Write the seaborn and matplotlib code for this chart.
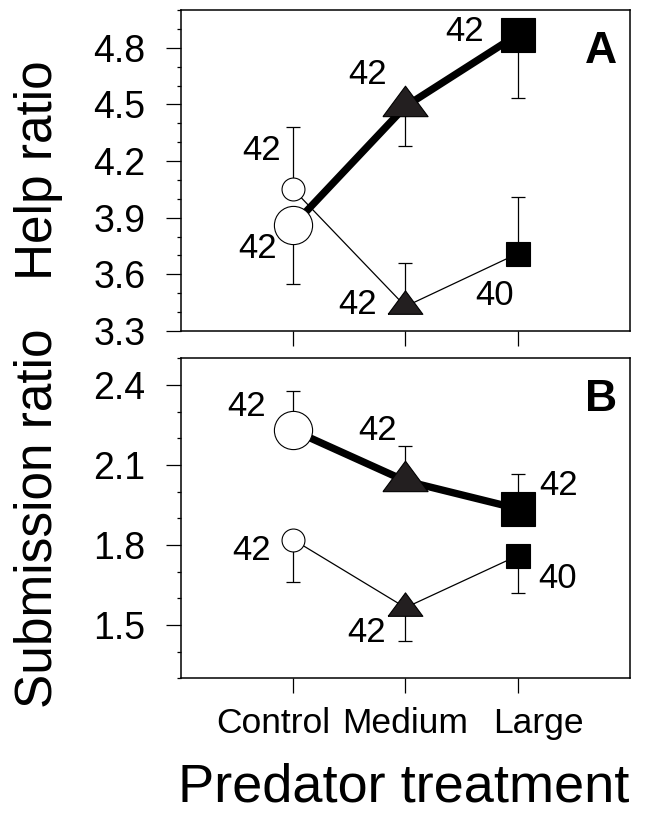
import matplotlib
matplotlib.use("Agg")
import matplotlib.pyplot as plt
import matplotlib.transforms as mtransforms
from matplotlib.ticker import MultipleLocator, FormatStrFormatter
import numpy as np
import pandas as pd
import seaborn as sns

# -------------------------------
# Data
# -------------------------------
treatments = ["Control", "Medium", "Large"]
positions = [1, 2, 3]

# Panel A - help ratio
help_thick = [3.86, 4.49, 4.87]
help_thick_err = [0.31, 0.21, 0.335]      # drawn downwards
help_thick_n = [42, 42, 42]
help_thin = [4.05, 3.43, 3.71]
help_thin_err = [0.33, 0.23, 0.30]        # drawn upwards
help_thin_n = [42, 42, 40]

# Panel B - submission ratio
sub_thick = [2.23, 2.04, 1.936]
sub_thick_err = [0.148, 0.13, 0.129]      # drawn upwards
sub_thick_n = [42, 42, 42]
sub_thin = [1.82, 1.565, 1.76]
sub_thin_err = [0.16, 0.125, 0.14]        # drawn downwards
sub_thin_n = [42, 42, 40]

help_ticks = [3.3, 3.6, 3.9, 4.2, 4.5, 4.8]
sub_ticks = [1.5, 1.8, 2.1, 2.4]

# -------------------------------
# Style
# -------------------------------
sns.set_theme(style="ticks")
plt.rcParams["font.family"] = ["Liberation Sans", "DejaVu Sans"]
plt.rcParams["axes.linewidth"] = 1.1
plt.rcParams["text.color"] = "black"
plt.rcParams["axes.labelcolor"] = "black"
plt.rcParams["xtick.color"] = "black"
plt.rcParams["ytick.color"] = "black"
plt.rcParams["axes.edgecolor"] = "black"

tri = [(-1, -0.45), (1, -0.45), (0, 0.9), (-1, -0.45)]
markers = ["o", tri, "s"]
faces = ["white", "#231f20", "black"]
big_sizes = [27.5, 32.5, 25]
small_sizes = [16.5, 25, 17]

fig = plt.figure(figsize=(6.45, 8.15), dpi=100)
ax_a = fig.add_axes([0.2806, 0.5939, 0.6961, 0.3938])
ax_b = fig.add_axes([0.2806, 0.1677, 0.6961, 0.3927])


def draw_series(ax, vals, errs, ns, down, thick, offsets):
    df = pd.DataFrame({"pos": positions, "val": vals})
    sns.lineplot(data=df, x="pos", y="val", ax=ax, color="black",
                 linewidth=5.3 if thick else 0.9, zorder=2)
    zeros = [0] * len(errs)
    yerr = [errs, zeros] if down else [zeros, errs]
    ax.errorbar(positions, vals, yerr=yerr, fmt="none", ecolor="black",
                elinewidth=0.9, capsize=5, capthick=0.9, zorder=1)
    sizes = big_sizes if thick else small_sizes
    for i, (p, v) in enumerate(zip(positions, vals)):
        ax.plot(p, v, marker=markers[i], ms=sizes[i], mfc=faces[i],
                mec="black", mew=0.8, linestyle="none", zorder=3)
        ax.annotate(str(ns[i]), xy=(p, v), xytext=offsets[i],
                    textcoords="offset points", ha="center", va="center",
                    fontsize=25, color="black")


draw_series(ax_a, help_thick, help_thick_err, help_thick_n, True, True,
            [(-25.6, -16.6), (-27.2, 23.0), (-38.0, 2.5)])
draw_series(ax_a, help_thin, help_thin_err, help_thin_n, False, False,
            [(-22.9, 27.8), (-34.4, 1.5), (-16.5, -30.0)])
draw_series(ax_b, sub_thick, sub_thick_err, sub_thick_n, False, True,
            [(-33.4, 16.8), (-19.8, 36.5), (29.7, 16.8)])
draw_series(ax_b, sub_thin, sub_thin_err, sub_thin_n, True, False,
            [(-30.0, -7.6), (-28.0, -18.0), (28.5, -16.5)])

for ax, ticks, lims, letter in [(ax_a, help_ticks, (3.3, 5.0), "A"),
                                (ax_b, sub_ticks, (1.3, 2.5), "B")]:
    ax.set_xlim(0, 4)
    ax.set_ylim(*lims)
    ax.set_yticks(ticks)
    ax.yaxis.set_minor_locator(MultipleLocator(0.1))
    ax.yaxis.set_major_formatter(FormatStrFormatter("%.1f"))
    ax.set_xticks(positions)
    ax.tick_params(axis="both", which="major", direction="out", length=10.5,
                   width=0.9, color="black")
    ax.tick_params(axis="y", which="major", pad=15, labelsize=27)
    ax.tick_params(axis="x", which="major", pad=10, labelsize=25.5)
    ax.tick_params(axis="y", which="minor", direction="out", length=3,
                   width=0.9, left=True, color="black")
    ax.tick_params(axis="x", which="minor", bottom=False)
    for s in ax.spines.values():
        s.set_visible(True)
        s.set_color("black")
    ax.text(0.935, 0.872, letter, transform=ax.transAxes, ha="center",
            va="center", fontsize=32, fontweight="bold")
    ax.set_xlabel("")

ax_a.set_xticklabels([])
ax_b.set_xticklabels(treatments)
shifts = [-14.4, 0, 15.0]
for lab, dx in zip(ax_b.get_xticklabels(), shifts):
    lab.set_transform(lab.get_transform() +
                      mtransforms.ScaledTranslation(dx / 72, 0, fig.dpi_scale_trans))

ax_a.set_ylabel("Help ratio", fontsize=37)
ax_b.set_ylabel("Submission ratio", fontsize=37)
ax_a.yaxis.set_label_coords(-0.263, 0.5)
ax_b.yaxis.set_label_coords(-0.263, 0.5)

ax_b.set_xlabel("Predator treatment", fontsize=39)
ax_b.xaxis.set_label_coords(0.497, -0.262)

fig.savefig("out.png", dpi=100, facecolor="white")
